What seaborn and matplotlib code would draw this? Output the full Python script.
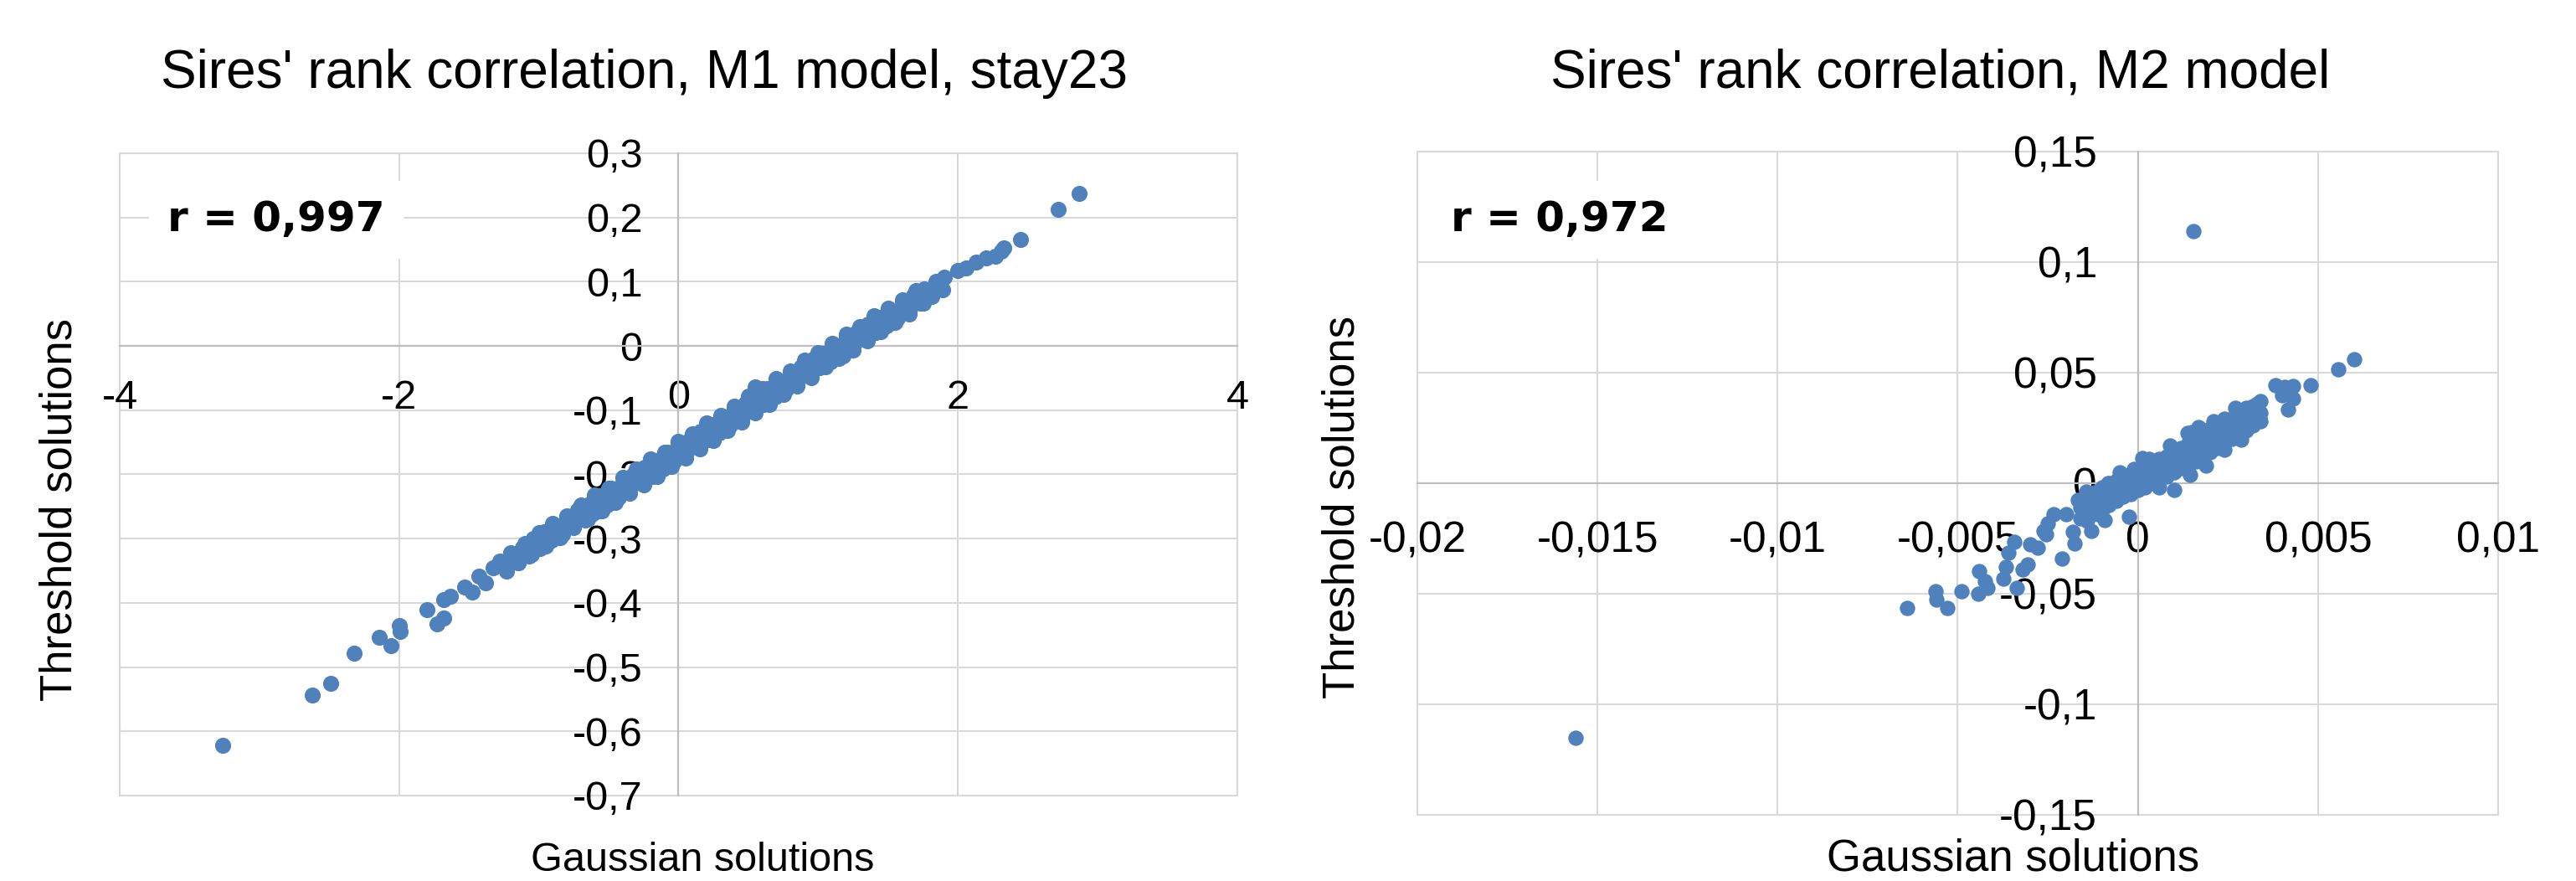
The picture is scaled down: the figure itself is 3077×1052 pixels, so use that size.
import matplotlib
matplotlib.use("Agg")
import matplotlib.pyplot as plt
from matplotlib.patches import Rectangle
from matplotlib.ticker import FuncFormatter
import pandas as pd
import seaborn as sns

# ---- M1 model, stay23 ----
m1_gauss = [
    # sparse tails
    -3.26, -2.62, -2.49, -2.32, -2.14, -2.06, -2.00, -1.99, -1.80, -1.73, -1.68, -1.68,
    -1.63, -1.53, -1.48, -1.43, -1.38, -1.33,
    2.87, 2.72, 2.45, 2.33, 2.31, 2.27, 2.20, 2.13, 2.06, 2.00, 1.90, 1.85,
    # dense band
    -1.28, -1.25, -1.23, -1.20, -1.17, -1.15, -1.12, -1.09, -1.07, -1.04, -1.01, -0.99,
    -0.96, -0.93, -0.91, -0.88, -0.85, -0.83, -0.80, -0.77, -0.75, -0.72, -0.69, -0.67,
    -0.64, -0.61, -0.59, -0.56, -0.53, -0.51, -0.48, -0.45, -0.43, -0.40, -0.37, -0.35,
    -0.32, -0.29, -0.27, -0.24, -0.21, -0.19, -0.16, -0.13, -0.11, -0.08, -0.05, -0.03,
    0.00, 0.03, 0.05, 0.08, 0.11, 0.13, 0.16, 0.19, 0.21, 0.24, 0.27, 0.29,
    0.32, 0.35, 0.37, 0.40, 0.43, 0.45, 0.48, 0.51, 0.53, 0.56, 0.59, 0.61,
    0.64, 0.67, 0.69, 0.72, 0.75, 0.77, 0.80, 0.83, 0.85, 0.88, 0.91, 0.93,
    0.96, 0.99, 1.01, 1.04, 1.07, 1.09, 1.12, 1.15, 1.17, 1.20, 1.23, 1.25,
    1.28, 1.31, 1.33, 1.36, 1.39, 1.41, 1.44, 1.47, 1.49, 1.52, 1.55, 1.57,
    1.60, 1.63, 1.65, 1.68, 1.71, 1.73, 1.76, 1.79, 1.81, 1.84, 1.87, 1.89,
    -1.21, -1.26, -1.02, -0.86, -0.70, -0.55, -0.41, -0.26, -0.12, 0.02, 0.17, 0.31,
    0.46, 0.60, 0.74, 0.89, 1.03, 1.18, 1.32, 1.46, 1.61, 1.75, 1.18, 0.55, -0.62,
    # upper edge of the band
    -1.2, -1.1, -1.0, -0.9, -0.8, -0.7, -0.6, -0.5, -0.4, -0.3, -0.2, -0.1, 0.0, 0.1, 0.2,
    0.3, 0.4, 0.5, 0.6, 0.7, 0.8, 0.9, 1.0, 1.1, 1.2, 1.3, 1.4, 1.5, 1.6, 1.7,
    # lower edge of the band
    -1.15, -1.05, -0.95, -0.85, -0.75, -0.65, -0.55, -0.45, -0.35, -0.25, -0.15, -0.05, 0.05,
    0.15, 0.25, 0.35, 0.45, 0.55, 0.65, 0.75, 0.85, 0.95, 1.05, 1.15, 1.25, 1.35, 1.45, 1.55,
    1.65, 1.75,
]
m1_thresh = [
    -0.622, -0.544, -0.525, -0.479, -0.453, -0.466, -0.435, -0.444, -0.410, -0.433, -0.423, -0.395,
    -0.390, -0.376, -0.383, -0.359, -0.369, -0.346,
    0.238, 0.213, 0.166, 0.153, 0.147, 0.140, 0.137, 0.131, 0.121, 0.118, 0.107, 0.099,
    -0.335, -0.341, -0.350, -0.323, -0.331, -0.338, -0.314, -0.316, -0.327, -0.300, -0.307, -0.316,
    -0.289, -0.297, -0.303, -0.280, -0.283, -0.293, -0.267, -0.274, -0.280, -0.255, -0.262, -0.271,
    -0.246, -0.249, -0.258, -0.233, -0.240, -0.247, -0.222, -0.229, -0.236, -0.213, -0.215, -0.226,
    -0.200, -0.206, -0.213, -0.189, -0.196, -0.203, -0.179, -0.182, -0.192, -0.166, -0.173, -0.180,
    -0.155, -0.161, -0.169, -0.146, -0.149, -0.158, -0.133, -0.139, -0.146, -0.122, -0.129, -0.136,
    -0.112, -0.115, -0.124, -0.099, -0.106, -0.113, -0.088, -0.095, -0.101, -0.078, -0.081, -0.091,
    -0.066, -0.072, -0.079, -0.055, -0.062, -0.068, -0.045, -0.048, -0.057, -0.032, -0.039, -0.046,
    -0.021, -0.028, -0.034, -0.011, -0.014, -0.024, 0.001, -0.005, -0.012, 0.012, 0.006, -0.001,
    0.022, 0.020, 0.010, 0.034, 0.028, 0.021, 0.045, 0.039, 0.032, 0.055, 0.052, 0.043,
    0.068, 0.062, 0.055, 0.078, 0.072, 0.066, 0.089, 0.086, 0.077, 0.101, 0.095, 0.088,
    -0.328, -0.337, -0.306, -0.288, -0.267, -0.249, -0.224, -0.205, -0.187, -0.164, -0.142, -0.125,
    -0.103, -0.085, -0.063, -0.043, -0.022, -0.002, 0.017, 0.036, 0.057, 0.076, -0.016, -0.064, -0.262,
    -0.322, -0.307, -0.290, -0.276, -0.264, -0.247, -0.232, -0.221, -0.204, -0.192, -0.176, -0.165,
    -0.149, -0.137, -0.120, -0.108, -0.094, -0.078, -0.067, -0.051, -0.039, -0.022, -0.010, 0.004,
    0.018, 0.030, 0.047, 0.059, 0.072, 0.086,
    -0.338, -0.324, -0.311, -0.298, -0.283, -0.270, -0.257, -0.244, -0.229, -0.216, -0.203, -0.188,
    -0.174, -0.160, -0.147, -0.131, -0.118, -0.104, -0.091, -0.075, -0.062, -0.049, -0.033, -0.020,
    -0.006, 0.008, 0.022, 0.037, 0.050, 0.066,
]

# ---- M2 model ----
m2_gauss = [
    0.00155, -0.01561,
    0.00601, 0.00556, 0.00479, 0.00382, 0.00407, 0.00431, 0.00401, 0.00431, 0.00416,
    0.00330, 0.00300, 0.00338, 0.00286, 0.00241, 0.00271, 0.00197, 0.00167, 0.00138, 0.00241,
    0.00012, -0.00010, 0.00101, 0.00145,
    -0.00084, -0.00144, -0.00166, -0.00025, -0.00092, -0.00129, -0.00176, -0.00210,
    -0.00255, -0.00233, -0.00262, -0.00277, -0.00299, -0.00344, -0.00359, -0.00366,
    -0.00307, -0.00321, -0.00373, -0.00440, -0.00425, -0.00418, -0.00443, -0.00489,
    -0.00561, -0.00559, -0.00529, -0.00640, -0.00336,
    -0.00250, -0.00200, -0.00180,
    -0.0016, -0.0016, -0.0014, -0.0014, -0.0014, -0.0012, -0.0012, -0.0010, -0.0010, -0.0010,
    -0.0008, -0.0008, -0.0008, -0.0006, -0.0006, -0.0006, -0.0004, -0.0004, -0.0004,
    -0.0002, -0.0002, -0.0002, 0.0000, 0.0000, 0.0000, 0.0002, 0.0002, 0.0002,
    0.0004, 0.0004, 0.0004, 0.0006, 0.0006, 0.0006, 0.0008, 0.0008, 0.0008,
    0.0010, 0.0010, 0.0010, 0.0012, 0.0012, 0.0012, 0.0014, 0.0014, 0.0014,
    0.0016, 0.0016, 0.0016, 0.0018, 0.0018, 0.0018, 0.0020, 0.0020, 0.0020,
    0.0022, 0.0022, 0.0022, 0.0024, 0.0024, 0.0024, 0.0026, 0.0026, 0.0026,
    0.0028, 0.0028, 0.0028, 0.0030, 0.0030, 0.0030, 0.0032, 0.0032, 0.0032,
    0.0034, 0.0034, 0.0034,
    -0.0005, 0.0003, 0.0009, 0.0015, 0.0021, 0.0027, -0.0011, 0.0006, 0.0019,
]
m2_thresh = [
    0.1142, -0.1152,
    0.0559, 0.0516, 0.0443, 0.0443, 0.0437, 0.0441, 0.0399, 0.0382, 0.0332,
    0.0361, 0.0342, 0.0291, 0.0196, 0.0291, 0.0253, 0.0241, 0.0253, 0.0228, 0.0152,
    0.0114, 0.0063, -0.0032, 0.0038,
    0.0000, -0.0038, -0.0076, -0.0152, -0.0165, -0.0215, -0.0272, -0.0342,
    -0.0232, -0.0139, -0.0215, -0.0291, -0.0278, -0.0266, -0.0316, -0.0380,
    -0.0367, -0.0392, -0.0430, -0.0399, -0.0443, -0.0475, -0.0500, -0.0487,
    -0.0487, -0.0525, -0.0563, -0.0563, -0.0475,
    -0.0180, -0.0140, -0.0220,
    -0.016, -0.011, -0.012, -0.008, -0.017, -0.010, -0.004, -0.008, -0.002, -0.012,
    -0.006, 0.000, -0.010, -0.004, 0.001, -0.008, -0.002, 0.003, -0.006,
    -0.001, 0.004, -0.005, 0.001, 0.006, -0.003, 0.002, 0.007, -0.002,
    0.004, 0.009, 0.000, 0.006, 0.011, 0.002, 0.007, 0.012, 0.003,
    0.009, 0.014, 0.005, 0.011, 0.016, 0.007, 0.013, 0.018, 0.008,
    0.015, 0.020, 0.010, 0.017, 0.022, 0.012, 0.019, 0.023, 0.014,
    0.021, 0.026, 0.016, 0.022, 0.027, 0.018, 0.024, 0.029, 0.020,
    0.026, 0.031, 0.022, 0.028, 0.033, 0.024, 0.030, 0.035, 0.026,
    0.032, 0.037, 0.028,
    0.005, 0.011, 0.017, 0.023, 0.028, 0.034, -0.014, -0.002, 0.008,
]

m1_xticks = [-4, -2, 0, 2, 4]
m1_yticks = [0.3, 0.2, 0.1, 0, -0.1, -0.2, -0.3, -0.4, -0.5, -0.6, -0.7]
m2_xticks = [-0.02, -0.015, -0.01, -0.005, 0, 0.005, 0.01]
m2_yticks = [0.15, 0.1, 0.05, 0, -0.05, -0.1, -0.15]

titles = ["Sires' rank correlation, M1 model, stay23", "Sires' rank correlation, M2 model"]
r_labels = ["r = 0,997", "r = 0,972"]

BLUE = "#4f81bd"
GRID = "#d9d9d9"
AXIS = "#bfbfbf"

sns.set_theme(style="white")
plt.rcParams["font.family"] = ["Liberation Sans", "DejaVu Sans"]
plt.rcParams["text.color"] = "black"
plt.rcParams["axes.labelcolor"] = "black"

fig = plt.figure(figsize=(30.77, 10.52), dpi=100)
ax1 = fig.add_axes([0.04647, 0.09696, 0.43387, 0.72909])
ax2 = fig.add_axes([0.55021, 0.07510, 0.41956, 0.75285])

comma = FuncFormatter(lambda v, p: f"{round(v, 6):g}".replace(".", ","))


def style_panel(ax, xticks, yticks, tick_size, xpad, ypad):
    ax.set_xlim(min(xticks), max(xticks))
    ax.set_ylim(min(yticks), max(yticks))
    ax.set_xticks(xticks)
    ax.set_yticks(yticks)
    ax.xaxis.set_major_formatter(comma)
    ax.yaxis.set_major_formatter(comma)
    ax.grid(True, color=GRID, linewidth=1.5)
    ax.set_axisbelow(True)
    for s in ["top", "right"]:
        ax.spines[s].set_visible(False)
    for s in ["left", "bottom"]:
        ax.spines[s].set_position(("data", 0))
        ax.spines[s].set_color(AXIS)
        ax.spines[s].set_linewidth(1.6)
    ax.tick_params(axis="x", length=0, pad=xpad, labelsize=tick_size, labelcolor="black")
    ax.tick_params(axis="y", length=0, pad=ypad, labelsize=tick_size, labelcolor="black")
    ax.add_patch(Rectangle((0, 0), 1, 1, transform=ax.transAxes, fill=False,
                           edgecolor=GRID, linewidth=1.5, clip_on=False, zorder=0.5))
    ax.set_xlabel("")
    ax.set_ylabel("")


df1 = pd.DataFrame({"gauss": m1_gauss, "thresh": m1_thresh})
df2 = pd.DataFrame({"gauss": m2_gauss, "thresh": m2_thresh})
sns.scatterplot(data=df1, x="gauss", y="thresh", ax=ax1, color=BLUE, s=190, linewidth=0,
                alpha=1, zorder=3)
sns.scatterplot(data=df2, x="gauss", y="thresh", ax=ax2, color=BLUE, s=175, linewidth=0,
                alpha=1, zorder=3)

style_panel(ax1, m1_xticks, m1_yticks, 35, 29, 31)
style_panel(ax2, m2_xticks, m2_yticks, 37, 32, 35)

# titles
fig.text(770 / 3077, 0.9002, titles[0], ha="center", va="baseline", fontsize=46)
fig.text(2318 / 3077, 0.9002, titles[1], ha="center", va="baseline", fontsize=46)

# axis titles
fig.text(839 / 3077, 0.0114, "Gaussian solutions", ha="center", va="baseline", fontsize=35)
fig.text(2405 / 3077, 0.012, "Gaussian solutions", ha="center", va="baseline", fontsize=38)
fig.text(72 / 3077, 0.422, "Threshold solutions", ha="center", va="center", rotation=90, fontsize=38)
fig.text(1604 / 3077, 0.424, "Threshold solutions", ha="center", va="center", rotation=90, fontsize=38)

# correlation boxes
for xc, lab in zip([330 / 3077, 1863 / 3077], r_labels):
    fig.text(xc, 0.7376, lab, ha="center", va="baseline", fontsize=36, fontweight="bold",
             family="DejaVu Sans",
             bbox=dict(boxstyle="square,pad=0.45", facecolor="white", edgecolor="none"))

fig.savefig("out.png", dpi=100)
